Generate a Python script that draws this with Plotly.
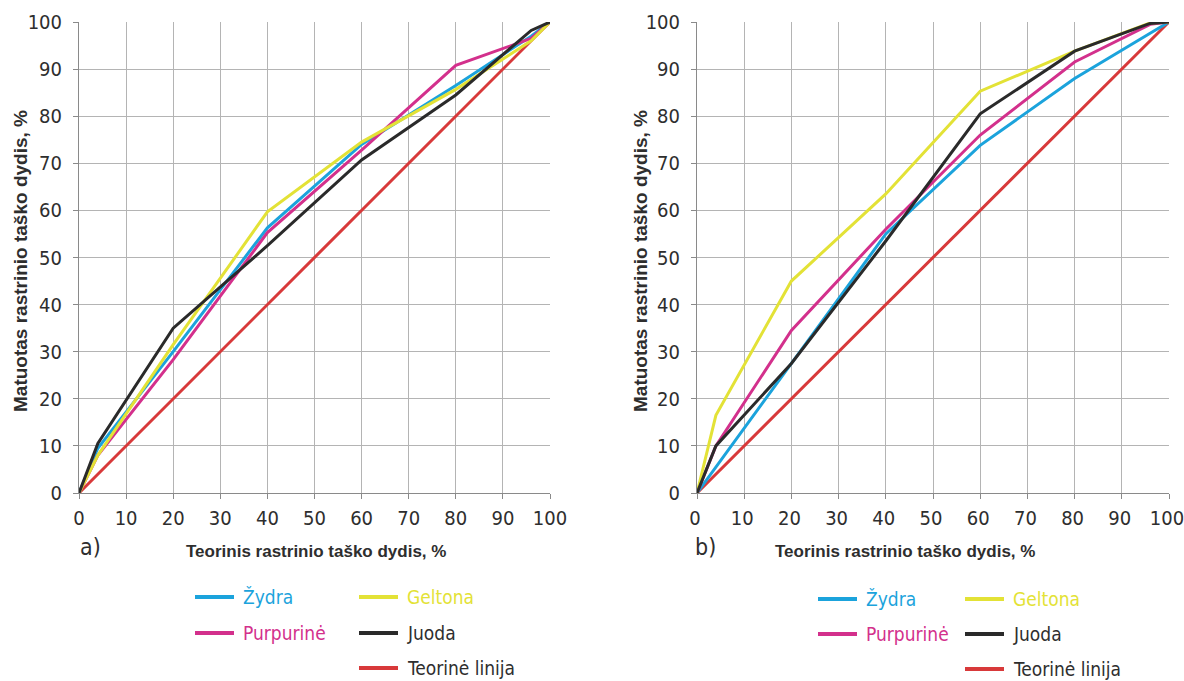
import plotly.graph_objects as go

# Tone values of the test patches (theoretical dot size, %)
tone = [0, 4, 20, 40, 60, 80, 96, 100]

# Panel a) measured dot size, %
a_cyan = [0, 9.5, 30.0, 56.3, 74.0, 86.5, 97.0, 100]
a_yellow = [0, 8.0, 31.5, 59.7, 74.5, 85.7, 96.0, 100]
a_magenta = [0, 8.0, 28.3, 55.3, 72.8, 90.8, 96.5, 100]
a_black = [0, 10.5, 35.0, 52.5, 70.7, 84.5, 98.2, 100]

# Panel b) measured dot size, %
b_cyan = [0, 5.5, 27.5, 55.0, 73.8, 88.0, 97.6, 100]
b_yellow = [0, 16.5, 45.0, 63.5, 85.3, 93.8, 99.8, 100]
b_magenta = [0, 10.0, 34.5, 56.0, 76.0, 91.5, 99.5, 100]
b_black = [0, 10.0, 27.5, 53.5, 80.5, 93.8, 99.7, 100]

# Theoretical line
theory_x = [0, 100]
theory_y = [0, 100]

series_names = ["Žydra", "Geltona", "Purpurinė", "Juoda", "Teorinė linija"]
x_title = "Teorinis rastrinio taško dydis, %"
y_title = "Matuotas rastrinio taško dydis, %"
tick_vals = list(range(0, 101, 10))
panel_labels = ["a)", "b)"]

W, H = 1184, 681
C_CYAN = "#1ba3dc"
C_YELLOW = "#e3e236"
C_MAGENTA = "#d3308c"
C_BLACK = "#2a2a2a"
C_RED = "#d8393a"
TEXT = "#2e2e2e"
NARROW = "Liberation Sans Narrow, DejaVu Sans Condensed, Liberation Sans, Arial"
BOLD = "Liberation Sans, Arial"


def px(x):
    return x / W


def py(y):
    return 1 - y / H


fig = go.Figure()

panels = [
    ("x", "y", a_cyan, a_yellow, a_magenta, a_black),
    ("x2", "y2", b_cyan, b_yellow, b_magenta, b_black),
]
for xa, ya, cy, ye, ma, bk in panels:
    fig.add_trace(go.Scatter(x=theory_x, y=theory_y, mode="lines", xaxis=xa, yaxis=ya,
                             line=dict(color=C_RED, width=3), name=series_names[4], showlegend=False))
    for vals, col, nm in [(cy, C_CYAN, series_names[0]), (ma, C_MAGENTA, series_names[2]),
                          (ye, C_YELLOW, series_names[1]), (bk, C_BLACK, series_names[3])]:
        fig.add_trace(go.Scatter(x=tone, y=vals, mode="lines", xaxis=xa, yaxis=ya,
                                 line=dict(color=col, width=3), name=nm, showlegend=False))

axis_common = dict(
    range=[0, 100], tickvals=tick_vals, showgrid=True, gridcolor="#b4b4b4", gridwidth=1,
    zeroline=False, showline=True, linecolor="#8a8a8a", linewidth=1,
    ticks="outside", ticklen=5, tickcolor="#8a8a8a",
    tickfont=dict(family=NARROW, size=20, color=TEXT),
)
x_extra = dict(ticklabelstandoff=2)
y_extra = dict(ticklabelstandoff=7)

y_dom = [py(493), py(22)]
fig.update_layout(
    width=W, height=H, margin=dict(l=0, r=0, t=0, b=0, autoexpand=False),
    paper_bgcolor="white", plot_bgcolor="white", showlegend=False,
    xaxis=dict(domain=[px(79), px(550)], anchor="y", **axis_common, **x_extra),
    yaxis=dict(domain=y_dom, anchor="x", **axis_common, **y_extra),
    xaxis2=dict(domain=[px(697), px(1169)], anchor="y2", ticklabeloverflow="allow",
                ticklabelshift=-2, **axis_common, **x_extra),
    yaxis2=dict(domain=y_dom, anchor="x2", **axis_common, **y_extra),
)

annotations = []
shapes = []

# Axis titles and panel labels
for cx, lx, lab in [(316, 90, panel_labels[0]), (905, 705, panel_labels[1])]:
    annotations.append(dict(x=px(cx), y=py(551), xref="paper", yref="paper", text=x_title,
                            showarrow=False,
                            font=dict(family=BOLD, size=17, color=TEXT, weight="bold"),
                            xanchor="center", yanchor="middle"))
    annotations.append(dict(x=px(lx), y=py(547), xref="paper", yref="paper", text=lab,
                            showarrow=False, font=dict(family=NARROW, size=23, color=TEXT),
                            xanchor="center", yanchor="middle"))
for cx in [20, 640]:
    annotations.append(dict(x=px(cx), y=py(261), xref="paper", yref="paper", text=y_title,
                            textangle=-90, showarrow=False,
                            font=dict(family=BOLD, size=19, color=TEXT, weight="bold"),
                            xanchor="center", yanchor="middle"))


def legend_block(c1, c2, rows):
    # swatch left x, row y, line colour, label, label colour
    items = [
        (c1, rows[0], C_CYAN, series_names[0], C_CYAN),
        (c2, rows[0], C_YELLOW, series_names[1], C_YELLOW),
        (c1, rows[1], C_MAGENTA, series_names[2], C_MAGENTA),
        (c2, rows[1], C_BLACK, series_names[3], TEXT),
        (c2, rows[2], C_RED, series_names[4], TEXT),
    ]
    for sx, sy, col, nm, tcol in items:
        shapes.append(dict(type="line", xref="paper", yref="paper",
                           x0=px(sx), x1=px(sx + 39), y0=py(sy), y1=py(sy),
                           line=dict(color=col, width=4)))
        annotations.append(dict(x=px(sx + 46), y=py(sy), xref="paper", yref="paper", text=nm,
                                showarrow=False, xanchor="left", yanchor="middle",
                                font=dict(family=NARROW, size=19, color=tcol)))


legend_block(195, 359, [597, 633, 668])
legend_block(818, 965, [599, 634, 669])

fig.update_layout(annotations=annotations, shapes=shapes)
fig.write_html("out.html")
